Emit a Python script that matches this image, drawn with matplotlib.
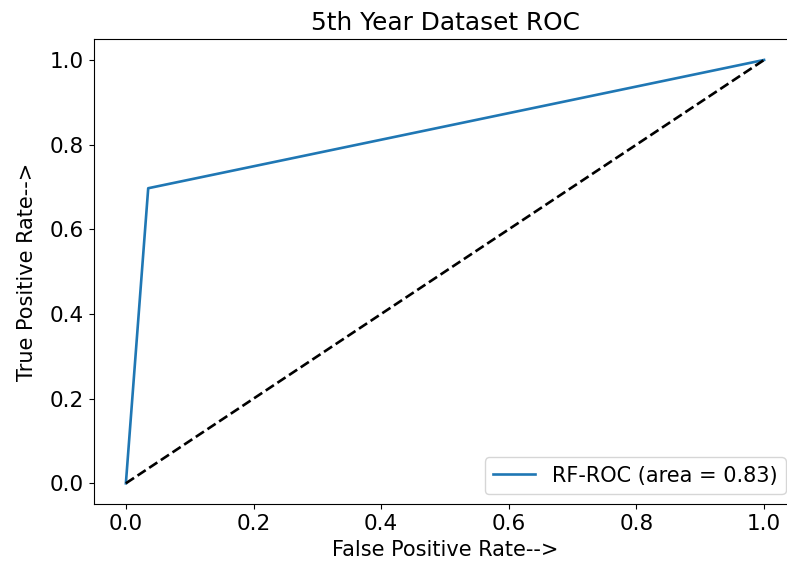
import matplotlib
matplotlib.use('Agg')
import matplotlib.pyplot as plt

# ROC points
fpr = [0.0, 0.035, 1.0]
tpr = [0.0, 0.697, 1.0]
auc = 0.83

plt.rcParams['font.size'] = 15
plt.rcParams['axes.titlesize'] = 17.8

fig = plt.figure(figsize=(7.87, 5.73), dpi=100)
ax = fig.add_axes([0.1194, 0.1196, 0.892, 0.8127])
ax.plot(fpr, tpr, color='#1f77b4', lw=1.9, label='RF-ROC (area = %0.2f)' % auc)
ax.plot([0, 1], [0, 1], 'k--', lw=1.9)
ax.set_xlim(-0.05, 1.05)
ax.set_ylim(-0.05, 1.05)
ax.tick_params(labelsize=15.5)
ax.set_xlabel('False Positive Rate-->')
ax.set_ylabel('True Positive Rate-->', labelpad=9)
ax.set_title('5th Year Dataset ROC')
ax.legend(loc='lower right')
fig.savefig('out.png', dpi=100)
